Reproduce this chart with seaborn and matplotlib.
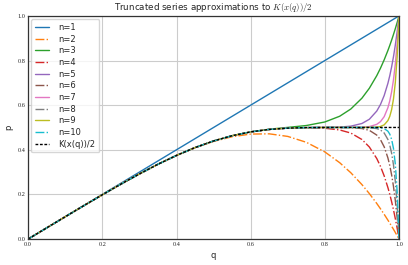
import numpy as np
import pandas as pd
import seaborn as sns
import matplotlib
matplotlib.use("Agg")
import matplotlib.pyplot as plt

# q sample points read along the x axis
q = [0.0, 0.05, 0.1, 0.15, 0.2, 0.25, 0.3, 0.35, 0.4, 0.45, 0.5, 0.55, 0.6, 0.65,
     0.7, 0.75, 0.8, 0.84, 0.87, 0.9, 0.92, 0.94, 0.95, 0.96, 0.97, 0.975, 0.98,
     0.985, 0.99, 0.995, 1.0]

n1 = [0.0, 0.05, 0.1, 0.15, 0.2, 0.25, 0.3, 0.35, 0.4, 0.45, 0.5, 0.55, 0.6, 0.65,
      0.7, 0.75, 0.8, 0.84, 0.87, 0.9, 0.92, 0.94, 0.95, 0.96, 0.97, 0.975, 0.98,
      0.985, 0.99, 0.995, 1.0]
n2 = [0.0, 0.05, 0.0999, 0.1495, 0.1984, 0.2461, 0.2919, 0.3350, 0.3744, 0.4090,
      0.4375, 0.4585, 0.4704, 0.4715, 0.4599, 0.4336, 0.3904, 0.3421, 0.2971, 0.2439,
      0.2036, 0.1593, 0.1355, 0.1107, 0.0847, 0.0713, 0.0576, 0.0437, 0.0294, 0.0149, 0.0]
n3 = [0.0, 0.05, 0.0999, 0.1495, 0.1984, 0.2461, 0.2919, 0.3351, 0.3747, 0.4098,
      0.4395, 0.4631, 0.4805, 0.4922, 0.5003, 0.5087, 0.5246, 0.5503, 0.5827, 0.6313,
      0.6758, 0.7323, 0.7657, 0.8032, 0.8450, 0.8675, 0.8913, 0.9165, 0.9429, 0.9708, 1.0]
n4 = [0.0, 0.05, 0.0999, 0.1495, 0.1984, 0.2461, 0.2919, 0.3351, 0.3747, 0.4098,
      0.4395, 0.4630, 0.4802, 0.4912, 0.4970, 0.4987, 0.4965, 0.4888, 0.4750, 0.4460,
      0.4124, 0.3607, 0.3256, 0.2828, 0.2307, 0.2006, 0.1675, 0.1313, 0.0914, 0.0479, 0.0]
n5 = [0.0, 0.05, 0.0999, 0.1495, 0.1984, 0.2461, 0.2919, 0.3351, 0.3747, 0.4098,
      0.4395, 0.4630, 0.4802, 0.4912, 0.4971, 0.4994, 0.5003, 0.5016, 0.5058, 0.5178,
      0.5368, 0.5736, 0.6030, 0.6432, 0.6977, 0.7316, 0.7710, 0.8167, 0.8692, 0.9301, 1.0]
n6 = [0.0, 0.05, 0.0999, 0.1495, 0.1984, 0.2461, 0.2919, 0.3351, 0.3747, 0.4098,
      0.4395, 0.4630, 0.4802, 0.4912, 0.4971, 0.4994, 0.4999, 0.4998, 0.4991, 0.4953,
      0.4871, 0.4658, 0.4452, 0.4132, 0.3637, 0.3297, 0.2878, 0.2364, 0.1728, 0.0952, 0.0]
n7 = [0.0, 0.05, 0.0999, 0.1495, 0.1984, 0.2461, 0.2919, 0.3351, 0.3747, 0.4098,
      0.4395, 0.4630, 0.4802, 0.4912, 0.4971, 0.4994, 0.5000, 0.5000, 0.5002, 0.5010,
      0.5039, 0.5140, 0.5262, 0.5485, 0.5885, 0.6189, 0.6594, 0.7132, 0.7839, 0.8774, 1.0]
n8 = [0.0, 0.05, 0.0999, 0.1495, 0.1984, 0.2461, 0.2919, 0.3351, 0.3747, 0.4098,
      0.4395, 0.4630, 0.4802, 0.4912, 0.4971, 0.4994, 0.5000, 0.5000, 0.5001, 0.4998,
      0.4991, 0.4950, 0.4887, 0.4752, 0.4461, 0.4211, 0.3849, 0.3331, 0.2583, 0.1518, 0.0]
n9 = [0.0, 0.05, 0.0999, 0.1495, 0.1984, 0.2461, 0.2919, 0.3351, 0.3747, 0.4098,
      0.4395, 0.4630, 0.4802, 0.4912, 0.4971, 0.4994, 0.5000, 0.5000, 0.5000, 0.5000,
      0.5003, 0.5016, 0.5044, 0.5118, 0.5309, 0.5497, 0.5796, 0.6271, 0.7014, 0.8181, 1.0]
n10 = [0.0, 0.05, 0.0999, 0.1495, 0.1984, 0.2461, 0.2919, 0.3351, 0.3747, 0.4098,
       0.4395, 0.4630, 0.4802, 0.4912, 0.4971, 0.4994, 0.5000, 0.5000, 0.5000, 0.5000,
       0.5000, 0.4996, 0.4985, 0.4949, 0.4833, 0.4702, 0.4470, 0.4065, 0.3354, 0.2123, 0.0]
k_half = [0.0, 0.05, 0.0999, 0.1495, 0.1984, 0.2461, 0.2919, 0.3351, 0.3747, 0.4098,
          0.4395, 0.4630, 0.4802, 0.4912, 0.4971, 0.4994, 0.5, 0.5, 0.5, 0.5,
          0.5, 0.5, 0.5, 0.5, 0.5, 0.5, 0.5, 0.5, 0.5, 0.5, 0.5]

series = [n1, n2, n3, n4, n5, n6, n7, n8, n9, n10]
labels = ["n=%d" % i for i in range(1, 11)]

sns.set_style("whitegrid")
plt.rcParams["font.family"] = ["DejaVu Sans"]
plt.rcParams["mathtext.fontset"] = "cm"

fig = plt.figure(figsize=(4.08, 2.65), dpi=100)
ax = fig.add_axes([0.069, 0.098, 0.909, 0.842])
colors = sns.color_palette("tab10", 10)

for i, (vals, lab) in enumerate(zip(series, labels)):
    sns.lineplot(x=q, y=vals, ax=ax, color=colors[i], lw=1.0,
                 linestyle="-" if i % 2 == 0 else "-.", label=lab)
sns.lineplot(x=q, y=k_half, ax=ax, color="black", lw=1.0,
             linestyle=(0, (2.0, 1.2)), label="K(x(q))/2")

ax.set_xlim(0, 1)
ax.set_ylim(0, 1)
ticks = np.arange(0, 1.01, 0.2)
ax.set_xticks(ticks)
ax.set_yticks(ticks)
ax.set_xticklabels(["%.1f" % t for t in ticks], family="Liberation Serif", fontsize=4.5)
ax.set_yticklabels(["%.1f" % t for t in ticks], family="Liberation Serif", fontsize=4.5)
ax.tick_params(length=0, pad=2)
ax.grid(True, color="#cccccc", lw=0.8)
for s in ax.spines.values():
    s.set_color("#333333")
    s.set_linewidth(0.9)

ax.set_xlabel("q", fontsize=6, labelpad=3)
ax.set_ylabel("p", fontsize=6, labelpad=3)
ax.set_title("Truncated series approximations to $K(x(q))/2$", fontsize=6.3, pad=4)
ax.legend(loc="upper left", fontsize=6, frameon=True, handlelength=1.7,
          handletextpad=1.1, labelspacing=0.32, borderpad=0.45,
          borderaxespad=0.4, edgecolor="#cccccc")

plt.savefig("out.png", dpi=100)
